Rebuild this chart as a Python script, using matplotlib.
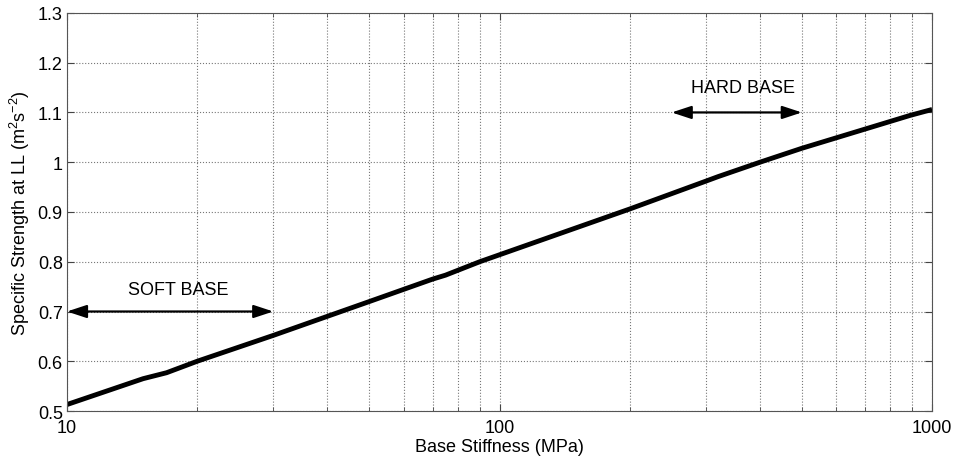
import matplotlib
matplotlib.use('Agg')
from matplotlib import pyplot as plt
from matplotlib.ticker import FixedLocator, NullFormatter

plt.rcParams['font.family'] = ['Liberation Sans', 'DejaVu Sans']
plt.rcParams['mathtext.fontset'] = 'custom'
plt.rcParams['mathtext.rm'] = 'Liberation Sans'
plt.rcParams['mathtext.it'] = 'Liberation Sans'

# data
stiffness = [10, 15, 17, 20, 30, 50, 70, 75, 90, 100, 200, 300, 320, 400, 500, 889, 1000]
strength = [0.513, 0.565, 0.577, 0.600, 0.652, 0.720, 0.765, 0.773, 0.800, 0.814,
            0.906, 0.962, 0.971, 1.000, 1.028, 1.094, 1.106]
soft_range = [10, 30]
soft_y = 0.70
hard_range = [250, 500]
hard_y = 1.10

fig = plt.figure(figsize=(9.56, 4.64), dpi=100)
ax = fig.add_axes([0.070, 0.112, 0.905, 0.858])

ax.plot(stiffness, strength, color='black', lw=3.5, solid_capstyle='butt')

arrow_style = dict(arrowstyle='<|-|>,head_length=0.85,head_width=0.28',
                   color='black', lw=1.6, mutation_scale=14,
                   shrinkA=0, shrinkB=0)
ax.annotate('', xy=(soft_range[0], soft_y), xytext=(soft_range[1], soft_y),
            arrowprops=arrow_style)
ax.text(18.1, 0.745, 'SOFT BASE', ha='center', va='center', fontsize=13)
ax.annotate('', xy=(hard_range[0], hard_y), xytext=(hard_range[1], hard_y),
            arrowprops=arrow_style)
ax.text(365, 1.151, 'HARD BASE', ha='center', va='center', fontsize=13)

ax.set_xscale('log')
ax.set_xlim(10, 1000)
ax.set_ylim(0.5, 1.3)
ax.xaxis.set_major_locator(FixedLocator([10, 100, 1000]))
ax.set_xticklabels(['10', '100', '1000'])
ax.xaxis.set_minor_locator(FixedLocator([20, 30, 40, 50, 60, 70, 80, 90,
                                         200, 300, 400, 500, 600, 700, 800, 900]))
ax.xaxis.set_minor_formatter(NullFormatter())
ax.set_yticks([0.5, 0.6, 0.7, 0.8, 0.9, 1.0, 1.1, 1.2, 1.3])
ax.set_yticklabels(['0.5', '0.6', '0.7', '0.8', '0.9', '1', '1.1', '1.2', '1.3'])

ax.grid(True, which='major', axis='both', ls=':', color='#777777', lw=0.8)
ax.grid(True, which='minor', axis='x', ls=':', color='#777777', lw=0.8)
ax.tick_params(which='both', direction='in', top=True, right=True,
               labelsize=13, color='#444444')
ax.tick_params(axis='x', pad=6)
ax.tick_params(axis='y', pad=3)
ax.tick_params(which='major', length=5)
ax.tick_params(which='minor', length=3)
for s in ax.spines.values():
    s.set_color('#555555')
    s.set_linewidth(0.8)

ax.set_xlabel('Base Stiffness (MPa)', fontsize=13, labelpad=1)
ax.set_ylabel('Specific Strength at LL (m$^2$s$^{-2}$)', fontsize=13, labelpad=4)

plt.savefig('out.png', dpi=100)
